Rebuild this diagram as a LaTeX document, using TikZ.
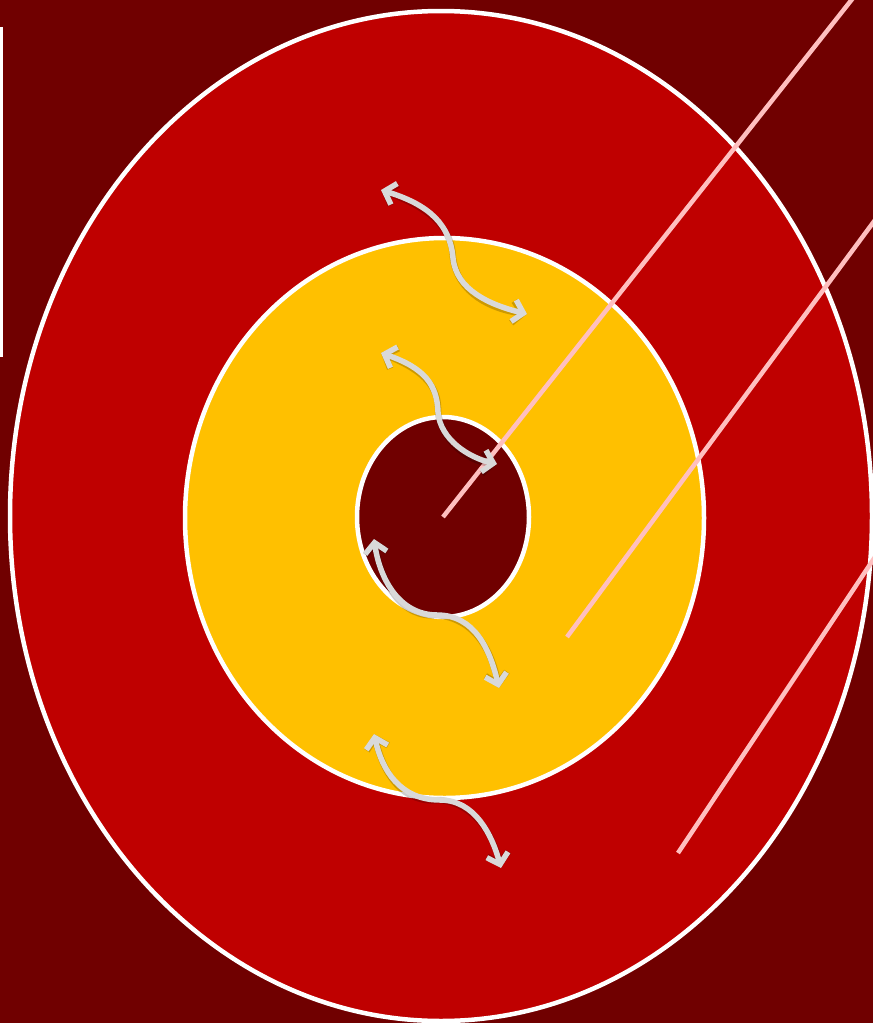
\documentclass[tikz,border=0pt]{standalone}
\usetikzlibrary{arrows.meta}
\definecolor{bgred}{HTML}{700000}
\definecolor{midred}{HTML}{BF0000}
\definecolor{gold}{HTML}{FFC000}
\definecolor{pinkline}{HTML}{FFBFBF}
\definecolor{arrowgrey}{HTML}{D9D9D9}
\tikzset{
  ring/.style={draw=white,line width=4.5},
  pinkstroke/.style={draw=pinkline,line width=4.5},
  dblarrow/.style={draw=arrowgrey,line width=5.5,line cap=round,
    {Straight Barb[length=10,width=22,line width=5.5]}-{Straight Barb[length=10,width=22,line width=5.5]}},
  arrowshadow/.style={draw=black,opacity=0.2,line width=6.5,line cap=round,
    {Straight Barb[length=10,width=22,line width=6.5]}-{Straight Barb[length=10,width=22,line width=6.5]}},
}
\begin{document}
\begin{tikzpicture}[x=1pt,y=-1pt]
\useasboundingbox (0,0) rectangle (873,1023);
\fill[bgred] (0,0) rectangle (873,1023);
\draw[white,line width=3.5] (1.5,27) -- (1.5,357);
% ellipses
\path[ring,fill=midred] (441,516) ellipse [x radius=431,y radius=505];
\path[ring,fill=gold] (444.5,518) ellipse [x radius=259.5,y radius=280];
\path[ring,fill=bgred] (443,517) ellipse [x radius=86,y radius=100];
% pink lines
\coordinate (p1a) at (443,517); \coordinate (p1b) at (853,-2);
\coordinate (p2a) at (567,637); \coordinate (p2b) at (875,220);
\coordinate (p3a) at (678,853); \coordinate (p3b) at (875,557);
\path[pinkstroke] (p1a) -- (p1b);
\path[pinkstroke] (p2a) -- (p2b);
\path[pinkstroke] (p3a) -- (p3b);
% arrows
\coordinate (a1s) at (381,190); \coordinate (a1m) at (453,258); \coordinate (a1e) at (527,314);
\coordinate (a2s) at (381,353); \coordinate (a2m) at (438,412); \coordinate (a2e) at (497,464);
\coordinate (a3s) at (374,539); \coordinate (a3m) at (437,615); \coordinate (a3e) at (499,688);
\coordinate (a4s) at (374,734); \coordinate (a4m) at (440,800); \coordinate (a4e) at (501,868);
\begin{scope}[shift={(2,4)}]
\path[arrowshadow] (a1s) .. controls (430,205) and (450,225) .. (a1m) .. controls (456,290) and (490,305) .. (a1e);
\path[arrowshadow] (a2s) .. controls (425,368) and (437,385) .. (a2m) .. controls (440,440) and (470,458) .. (a2e);
\path[arrowshadow] (a3s) .. controls (380,580) and (400,615) .. (a3m) .. controls (475,615) and (490,650) .. (a3e);
\path[arrowshadow] (a4s) .. controls (382,770) and (400,800) .. (a4m) .. controls (475,800) and (492,835) .. (a4e);
\end{scope}
\path[dblarrow] (a1s) .. controls (430,205) and (450,225) .. (a1m) .. controls (456,290) and (490,305) .. (a1e);
\path[dblarrow] (a2s) .. controls (425,368) and (437,385) .. (a2m) .. controls (440,440) and (470,458) .. (a2e);
\path[dblarrow] (a3s) .. controls (380,580) and (400,615) .. (a3m) .. controls (475,615) and (490,650) .. (a3e);
\path[dblarrow] (a4s) .. controls (382,770) and (400,800) .. (a4m) .. controls (475,800) and (492,835) .. (a4e);
\end{tikzpicture}
\end{document}
